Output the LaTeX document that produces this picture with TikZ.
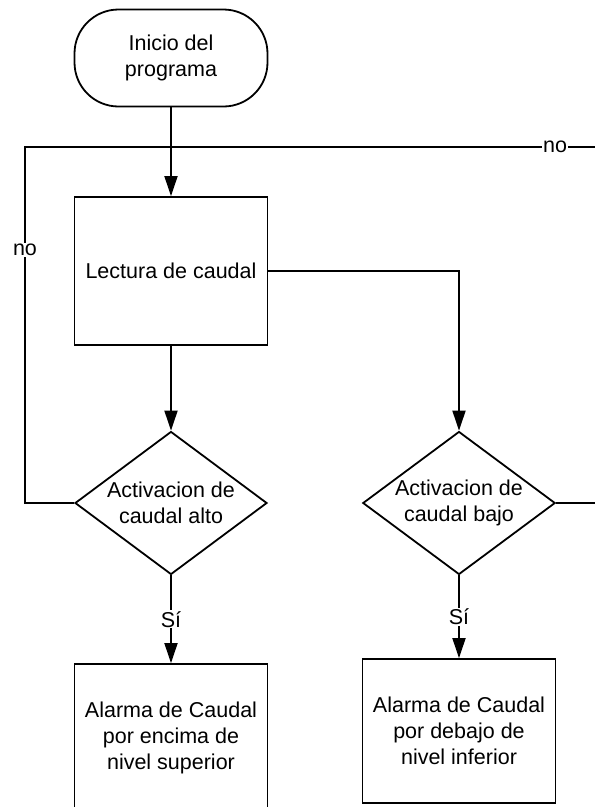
\documentclass[tikz,border=0pt]{standalone}
\usepackage{fontspec}
\setmainfont{Liberation Sans}
\usetikzlibrary{arrows.meta,calc,positioning,shapes.geometric}

\begin{document}
\begin{tikzpicture}[x=1pt,y=-1pt,>={Triangle[length=20pt,width=13pt]},line width=1.8pt,
    every node/.style={font=\fontsize{21.5}{26}\selectfont,align=center},
    term/.style={draw,rectangle,rounded corners=44pt,minimum width=193pt,minimum height=97pt},
    proc/.style={draw,rectangle,minimum width=193pt,minimum height=148pt},
    decision/.style={draw,diamond,aspect=1.4,minimum width=192pt,minimum height=143pt,inner sep=0pt},
    lbl/.style={fill=white,inner sep=1pt}]
        \useasboundingbox (0,0) rectangle (595,807);
        \clip (0,0) rectangle (595,807);
        \node[term] (inicio) at (171,58) {Inicio del\\programa};
        \node[proc] (lectura) at (171,271) {Lectura de caudal};
        \node[decision] (alto) at (171,503) {Activacion de\\caudal alto};
        \node[decision] (bajo) at (459,503) {Activacion de\\caudal bajo};
        \node[proc] (alarmaalto) at (171,738) {Alarma de Caudal\\por encima de\\nivel superior};
        \node[proc,minimum height=144pt] (alarmabajo) at (459,731) {Alarma de Caudal\\por debajo de\\nivel inferior};
        \coordinate (union) at (171,147);
        \coordinate (izq) at (25,147);
        \coordinate (der) at (610,147);
        \draw[->] (inicio) -- (lectura);
        \draw[->] (lectura) -- (alto);
        \draw[->] (lectura.east) -| (bajo.north);
        \draw[->] (alto.south) -- node[lbl] {Sí} (alarmaalto.north);
        \draw[->] (bajo.south) -- node[lbl] {Sí} (alarmabajo.north);
        % lazos de regreso
        \draw (alto.west) -| node[lbl,pos=0.855] {no} (izq) -- (union);
        \draw (bajo.east) -| (der) -- node[lbl,pos=0.125] {no} (union);
      \end{tikzpicture}
\end{document}
